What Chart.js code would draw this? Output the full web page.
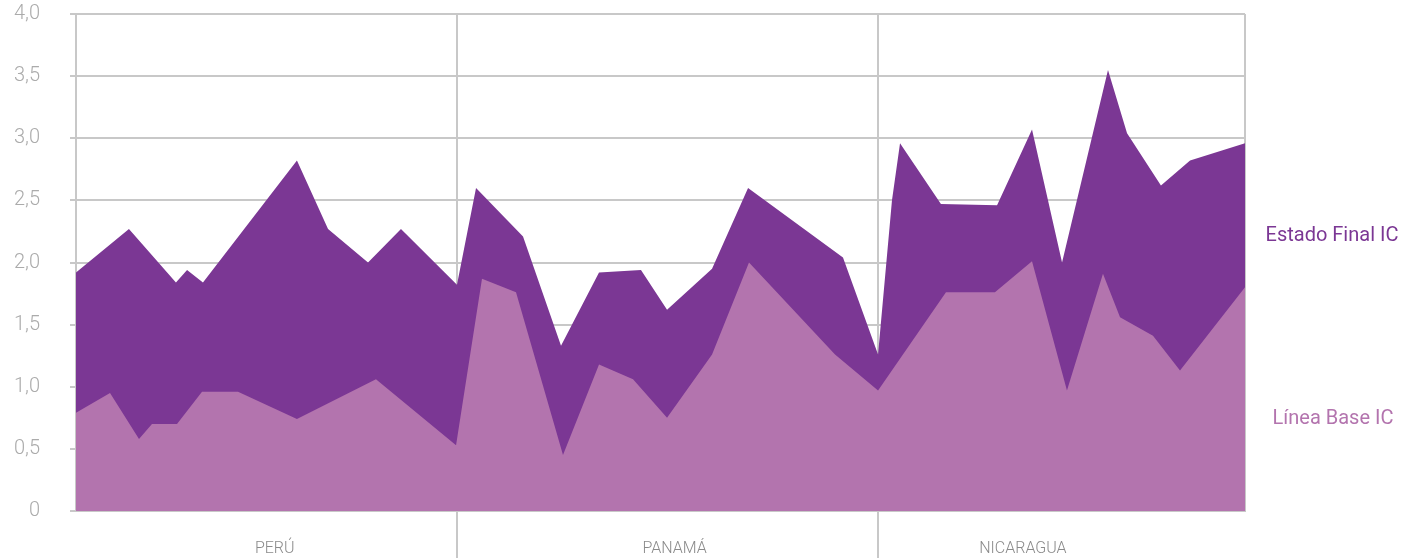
<!DOCTYPE html>
<html>
<head>
<meta charset="utf-8">
<script src="https://cdn.jsdelivr.net/npm/chart.js@4.4.0/dist/chart.umd.min.js"></script>
<style>
  html, body { margin: 0; padding: 0; background: #ffffff; }
  #wrap { position: relative; width: 1420px; height: 558px; }
  #wrap canvas { position: absolute; left: 0; top: 0; }
  .lg { position: absolute; font-family: Roboto, "Noto Sans", sans-serif; font-size: 20px; white-space: nowrap; transform: translate(-50%, -50%); }
</style>
</head>
<body>
<div id="wrap">
  <canvas id="c" width="1420" height="558"></canvas>
  <div class="lg" id="lgFinal" style="left:1332px; top:234px; color:#7b3794;">Estado Final IC</div>
  <div class="lg" id="lgBase" style="left:1333px; top:417px; color:#b374ae;">Línea Base IC</div>
</div>
<script>
// ---- data ----
const countries = ['PERÚ', 'PANAMÁ', 'NICARAGUA'];
const countryEdges = [0, 32.59, 68.61, 100];        // boundaries between countries on the position axis
const countryLabelPos = [17.0, 51.2, 81.0];          // where each country name sits on the position axis
const yTicks = [0, 0.5, 1, 1.5, 2, 2.5, 3, 3.5, 4];

// Estado Final IC (position along axis, value)
const finalX = [0, 4.53, 8.55, 9.50, 10.86, 18.90, 21.56, 24.98, 27.80, 32.59,
                34.22, 38.24, 41.49, 44.74, 48.33, 50.56, 54.41, 57.49, 65.61, 68.61,
                69.80, 70.49, 73.99, 78.79, 81.78, 84.35, 88.28, 89.91, 92.81, 95.30, 100];
const finalY = [1.92, 2.27, 1.84, 1.94, 1.84, 2.82, 2.27, 2.00, 2.27, 1.82,
                2.60, 2.21, 1.33, 1.92, 1.94, 1.62, 1.95, 2.60, 2.04, 1.26,
                2.50, 2.96, 2.47, 2.46, 3.07, 2.00, 3.55, 3.04, 2.62, 2.82, 2.96];

// Línea Base IC
const baseX = [0, 2.91, 5.39, 6.50, 8.64, 10.78, 13.86, 18.90, 25.66, 32.51,
               34.73, 37.64, 41.66, 44.74, 47.65, 50.56, 54.41, 57.57, 64.93, 68.61,
               74.42, 78.61, 81.78, 84.77, 87.85, 89.31, 92.13, 94.44, 100];
const baseY = [0.79, 0.95, 0.58, 0.70, 0.70, 0.96, 0.96, 0.74, 1.06, 0.53,
               1.87, 1.76, 0.45, 1.18, 1.06, 0.75, 1.26, 2.00, 1.26, 0.97,
               1.76, 1.76, 2.01, 0.97, 1.91, 1.56, 1.41, 1.13, 1.80];

// ---- styling ----
const DARK = '#7b3794';
const LIGHT = '#b374ae';
const GRID = '#c8c8c8';

const toPts = (xs, ys) => xs.map((x, i) => ({ x: x, y: ys[i] }));
const near = (a, b) => Math.abs(a - b) < 0.01;
const isEdge = v => countryEdges.some(e => near(e, v));
const isInnerEdge = v => near(v, countryEdges[1]) || near(v, countryEdges[2]);

new Chart(document.getElementById('c'), {
  type: 'line',
  data: {
    datasets: [
      {
        label: 'Línea Base IC',
        data: toPts(baseX, baseY),
        backgroundColor: LIGHT,
        borderWidth: 0,
        borderColor: LIGHT,
        pointRadius: 0,
        fill: 'origin',
        tension: 0
      },
      {
        label: 'Estado Final IC',
        data: toPts(finalX, finalY),
        backgroundColor: DARK,
        borderWidth: 0,
        borderColor: DARK,
        pointRadius: 0,
        fill: 'origin',
        tension: 0
      }
    ]
  },
  options: {
    responsive: false,
    animation: false,
    events: [],
    layout: { padding: { left: 0, right: 175, top: 14, bottom: 0 } },
    plugins: { legend: { display: false }, tooltip: { enabled: false } },
    scales: {
      x: {
        type: 'linear',
        min: 0,
        max: 100,
        afterBuildTicks: s => {
          s.ticks = countryEdges.concat(countryLabelPos).sort((a, b) => a - b).map(v => ({ value: v }));
        },
        afterFit: s => { s.height = 47; s.paddingLeft = 0; s.paddingRight = 0; },
        ticks: {
          autoSkip: false,
          maxRotation: 0,
          padding: -19,
          color: '#8a8a8a',
          font: { family: 'Roboto, "Noto Sans", sans-serif', size: 16, weight: 300 },
          callback: function (value) {
            const i = countryLabelPos.findIndex(p => near(p, value));
            return i >= 0 ? countries[i] : '';
          }
        },
        grid: {
          lineWidth: 2,
          tickLength: 47,
          color: ctx => (ctx.tick && isEdge(ctx.tick.value)) ? GRID : 'rgba(0,0,0,0)',
          tickColor: ctx => (ctx.tick && isInnerEdge(ctx.tick.value)) ? GRID : 'rgba(0,0,0,0)'
        },
        border: { display: true, color: GRID, width: 2 }
      },
      y: {
        min: 0,
        max: 4,
        afterBuildTicks: s => { s.ticks = yTicks.map(v => ({ value: v })); },
        afterFit: s => { s.width = 76; s.paddingTop = 0; s.paddingBottom = 0; },
        ticks: {
          padding: 30,
          color: '#ababab',
          font: { family: 'Roboto, "Noto Sans", sans-serif', size: 20, weight: 300 },
          callback: v => (v === 0 ? '0' : v.toFixed(1).replace('.', ','))
        },
        grid: { color: GRID, lineWidth: 2, tickLength: 6 },
        border: { display: true, color: GRID, width: 2 }
      }
    }
  }
});
</script>
</body>
</html>
